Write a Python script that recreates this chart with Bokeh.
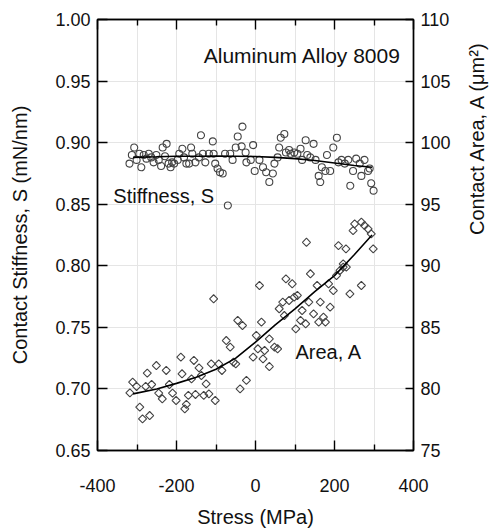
import numpy as np
from bokeh.plotting import figure
from bokeh.models import Range1d, LinearAxis, FixedTicker, Label
from bokeh.embed import file_html
from bokeh.resources import INLINE

FONT = "Liberation Sans"

# ---- data ----
stiff_stress = [-319, -313, -307, -301, -294, -289, -283, -276, -270, -264, -258, -251, -245, -239,
                -235, -229, -225, -220, -215, -211, -206, -197, -193, -185, -181, -175, -168, -163,
                -160, -152, -143, -138, -133, -127, -118, -108, -106, -102, -96, -90, -83, -77, -70,
                -64, -58, -50, -45, -33, -35, -25, -23,
                -6, -12, -2, 10, 19, 27, 35, 44, 48, 56, 60, 64, 73, 77, 85, 89, 98, 106, 114, 118,
                127, 131, 139, 147, 152, 160, 164, 168, 177, 181, 189, 197, 206, 210, 218, 226, 235,
                240, 247, 255, 264, 268, 276, 285, 289, 293, 299]
stiff_vals = [0.883, 0.890, 0.896, 0.886, 0.891, 0.880, 0.890, 0.887, 0.891, 0.888, 0.884, 0.890, 0.886, 0.881,
              0.896, 0.889, 0.899, 0.883, 0.880, 0.884, 0.883, 0.886, 0.891, 0.895, 0.888, 0.883, 0.883, 0.896,
              0.891, 0.884, 0.888, 0.906, 0.891, 0.884, 0.891, 0.901, 0.891, 0.883, 0.879, 0.876, 0.875, 0.891, 0.849,
              0.891, 0.886, 0.896, 0.905, 0.913, 0.897, 0.892, 0.884,
              0.898, 0.886, 0.877, 0.886, 0.880, 0.876, 0.868, 0.875, 0.883, 0.888, 0.896, 0.904, 0.907, 0.892, 0.894, 0.891, 0.892, 0.891, 0.895, 0.886,
              0.902, 0.890, 0.888, 0.899, 0.886, 0.873, 0.868, 0.880, 0.877, 0.890, 0.877, 0.896, 0.904, 0.884, 0.886, 0.883, 0.886,
              0.865, 0.877, 0.887, 0.883, 0.873, 0.886, 0.877, 0.879, 0.867, 0.861]

area_stress = [-318, -311, -301, -293, -286, -278, -274, -268, -263, -251, -245, -236, -226, -218, -210, -201,
               -189, -186, -179, -175, -170, -162, -156, -152, -143, -137, -131, -125, -118, -112, -106, -102,
               -93, -85, -74, -64, -56, -50, -45, -39, -33, -23,
               10, 15, 2, 6, -6, 19, 23, 35, 35, 48, 56, 60, 69, 73, 77, 85, 93, 98, 102, 106, 114, 118, 127,
               135, 139, 147, 156, 160, 164, 172, 177, 185, 189, 197, 205, 214, 222, 230, 239, 268,
               129, 210, 229, 222, 247, 251, 268, 276, 285, 293, 298]
area_vals = [79.68, 80.55, 80.20, 78.52, 77.57, 80.20, 81.28, 77.84, 80.36, 81.90, 79.66, 79.20, 81.50, 80.36, 79.66, 79.06,
             82.58, 81.23, 78.38, 78.74, 79.47, 80.82, 82.31, 79.55, 81.71, 81.09, 79.47, 80.41, 79.60, 82.04, 87.32, 79.06,
             82.04, 81.50, 83.93, 83.39, 82.17, 82.04, 85.56, 80.01, 85.15, 80.69,
             88.40, 85.42, 84.34, 83.26, 82.58, 82.44, 83.12, 84.07, 81.82, 83.39, 83.26, 86.51, 87.05, 85.96, 88.94, 87.18, 88.54, 87.45, 84.88, 87.59, 85.56, 86.37, 85.29,
             87.05, 89.35, 86.10, 88.40, 85.42, 87.05, 85.83, 85.42, 88.54, 86.64, 87.99, 89.21, 89.62, 89.89, 89.89, 87.72, 88.40,
             91.91, 91.64, 91.37, 90.15, 92.86, 93.40, 93.54, 93.27, 92.99, 92.59, 91.37]

fit_stress = [-310, -250, -200, -150, -100, -50, 0, 50, 100, 150, 200, 250, 295]
stiff_fit = [0.888, 0.8885, 0.889, 0.889, 0.8892, 0.889, 0.8888, 0.888, 0.887, 0.8855, 0.8835, 0.8815, 0.880]
area_fit = [79.6, 80.0, 80.45, 80.95, 81.6, 82.5, 83.8, 85.2, 86.5, 87.9, 89.2, 90.9, 92.5]

x_ticks = [-400, -200, 0, 200, 400]
x_labels = ["-400", "-200", "0", "200", "400"]
x_minor = [-300, -100, 100, 300]
s_ticks = [0.65, 0.70, 0.75, 0.80, 0.85, 0.90, 0.95, 1.00]
s_labels = ["0.65", "0.70", "0.75", "0.80", "0.85", "0.90", "0.95", "1.00"]
a_ticks = [75, 80, 85, 90, 95, 100, 105, 110]
a_labels = ["75", "80", "85", "90", "95", "100", "105", "110"]

title_text = "Aluminum Alloy 8009"
x_title = "Stress (MPa)"
y_title = "Contact Stiffness, S (mN/nm)"
y2_title = "Contact Area, A (\u03bcm\u00b2)"

# ---- figure ----
p = figure(width=501, height=531, output_backend="svg", toolbar_location=None,
           x_range=Range1d(-400, 400), y_range=Range1d(0.65, 1.0),
           x_axis_location=None, y_axis_location=None,
           min_border_left=97, min_border_right=83, min_border_top=19, min_border_bottom=81)
p.extra_y_ranges = {"area": Range1d(75, 110)}
p.outline_line_color = "black"
p.outline_line_width = 1.4
p.background_fill_color = "white"
p.border_fill_color = "white"


def style(ax, tick_in=10):
    ax.axis_line_color = "black"
    ax.axis_line_width = 1.4
    ax.major_tick_line_color = "black"
    ax.major_tick_line_width = 1.4
    ax.minor_tick_line_color = "black"
    ax.minor_tick_line_width = 1.4
    ax.major_tick_in = tick_in
    ax.major_tick_out = 0
    ax.minor_tick_in = 6
    ax.minor_tick_out = 0
    ax.major_label_text_font = FONT
    ax.major_label_text_font_size = "18px"
    ax.major_label_text_color = "#111111"
    ax.axis_label_text_font = FONT
    ax.axis_label_text_font_size = "20px"
    ax.axis_label_text_font_style = "normal"
    ax.axis_label_text_color = "#111111"


bottom = LinearAxis(ticker=FixedTicker(ticks=x_ticks, minor_ticks=x_minor),
                    major_label_overrides=dict(zip(x_ticks, x_labels)), axis_label=x_title)
style(bottom)
bottom.major_label_standoff = 28
bottom.axis_label_standoff = 11
p.add_layout(bottom, "below")

top = LinearAxis(ticker=FixedTicker(ticks=x_ticks, minor_ticks=x_minor),
                 major_label_overrides={t: "" for t in x_ticks})
style(top)
top.major_label_text_font_size = "8px"
top.major_label_standoff = 0
p.add_layout(top, "above")

left = LinearAxis(ticker=FixedTicker(ticks=s_ticks),
                  major_label_overrides=dict(zip(s_ticks, s_labels)), axis_label=y_title)
style(left)
left.major_label_standoff = 7
left.axis_label_standoff = 21
p.add_layout(left, "left")

right = LinearAxis(y_range_name="area", ticker=FixedTicker(ticks=a_ticks),
                   major_label_overrides=dict(zip(a_ticks, a_labels)), axis_label=y2_title)
style(right, tick_in=8)
right.major_label_standoff = 7
right.axis_label_standoff = 23
if "axis_label_orientation" in right.properties():
    right.axis_label_orientation = np.pi / 2
p.add_layout(right, "right")

# ---- marks ----
p.scatter(stiff_stress, stiff_vals, marker="circle", size=7, fill_color=None,
          line_color="#444444", line_width=1.1)
p.scatter(area_stress, area_vals, marker="square", angle=np.pi / 4, size=5.7, fill_color=None,
          line_color="#444444", line_width=1.1, y_range_name="area")
p.line(fit_stress, stiff_fit, line_color="black", line_width=1.6)
p.line(fit_stress, area_fit, line_color="black", line_width=1.6, y_range_name="area")

# ---- annotations ----
for txt, x, y, fs in [(title_text, -131, 0.9708, "21px"), ("Stiffness, S", -360, 0.857, "20px"),
                      ("Area, A", 101, 0.7296, "20px")]:
    p.add_layout(Label(x=x, y=y, text=txt, text_font=FONT, text_font_size=fs,
                       text_color="#111111", text_baseline="alphabetic", text_align="left"))

open("out.html", "w").write(file_html(p, INLINE))
